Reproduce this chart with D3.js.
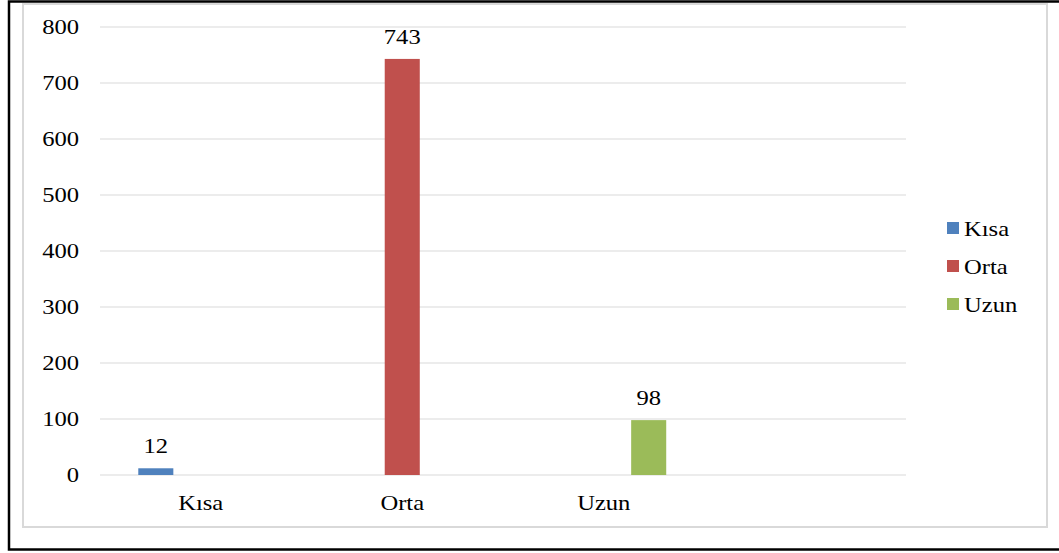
<!DOCTYPE html>
<html><head><meta charset="utf-8">
<script src="https://cdn.jsdelivr.net/npm/d3@7"></script>
<style>body{margin:0;background:#fff} text{font-family:"Liberation Serif","Times New Roman",Times,serif;}</style>
</head><body><svg id="c" width="1059" height="553"></svg>
<script>
const categories = ["Kısa", "Orta", "Uzun", ""];
const series = ["Kısa", "Orta", "Uzun"];
const values = [[12, 0, 0], [0, 743, 0], [0, 0, 98], [0, 0, 0]];
const labels = [[12, null, null], [null, 743, null], [null, null, 98], [null, null, null]];
const colors = ["#4F81BD", "#C0504D", "#9BBB59"];
const yTicks = [0, 100, 200, 300, 400, 500, 600, 700, 800];

const svg = d3.select("#c");
const sx = 1.2;

svg.append("rect").attr("x", 9).attr("y", 1.5).attr("width", 1060).attr("height", 548)
  .attr("fill", "none").attr("stroke", "#000").attr("stroke-width", 2.5);
svg.append("rect").attr("x", 23).attr("y", 4).attr("width", 1024).attr("height", 523)
  .attr("fill", "#fff").attr("stroke", "#d9d9d9").attr("stroke-width", 2);

const x0 = d3.scaleBand().domain(d3.range(categories.length)).range([100, 906])
  .paddingInner(0.38).paddingOuter(0.19);
const x1 = d3.scaleBand().domain(d3.range(series.length)).range([0, x0.bandwidth()])
  .paddingInner(0.22).paddingOuter(0);
const y = d3.scaleLinear().domain([0, 800]).range([475, 27]);

function stext(g, x, yy, t, anchor, size) {
  g.append("text").attr("transform", `translate(${x},${yy}) scale(${sx},1)`)
    .attr("text-anchor", anchor).style("font-size", size + "px")
    .attr("fill", "#000").text(t);
}

const grid = svg.append("g");
yTicks.forEach(t => {
  grid.append("line").attr("x1", 100).attr("x2", 906).attr("y1", y(t)).attr("y2", y(t))
    .attr("stroke", "#d9d9d9").attr("stroke-width", 1.2);
  stext(svg, 79, y(t) + 7, t, "end", 20.5);
});

const bars = svg.append("g");
values.forEach((row, i) => {
  row.forEach((v, j) => {
    if (v > 0) {
      bars.append("rect").attr("x", x0(i) + x1(j)).attr("width", x1.bandwidth())
        .attr("y", y(v)).attr("height", y(0) - y(v)).attr("fill", colors[j]);
    }
    const l = labels[i][j];
    if (l !== null) stext(svg, x0(i) + x1(j) + x1.bandwidth() / 2, y(v) - 15, l, "middle", 20.5);
  });
});

categories.forEach((c, i) => {
  if (c) stext(svg, x0(i) + x0.bandwidth() / 2, 510, c, "middle", 20.5);
});

const legY = [229, 267, 305];
series.forEach((s, j) => {
  svg.append("rect").attr("x", 947).attr("y", legY[j] - 7).attr("width", 12).attr("height", 12)
    .attr("fill", colors[j]);
  stext(svg, 964, legY[j] + 7, s, "start", 20.5);
});
</script></body></html>
